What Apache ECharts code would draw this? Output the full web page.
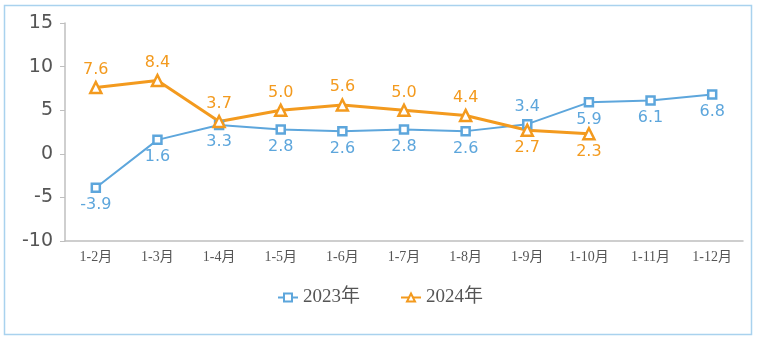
<!DOCTYPE html>
<html><head><meta charset="utf-8">
<script src="https://cdn.jsdelivr.net/npm/echarts@6/dist/echarts.min.js"></script>
<style>html,body{margin:0;padding:0;background:#fff}#c{width:760px;height:340px}</style>
</head><body><div id="c"></div>
<script>
const categories = ['1-2月','1-3月','1-4月','1-5月','1-6月','1-7月','1-8月','1-9月','1-10月','1-11月','1-12月'];
const series2023 = [-3.9,1.6,3.3,2.8,2.6,2.8,2.6,3.4,5.9,6.1,6.8];
const series2024 = [7.6,8.4,3.7,5.0,5.6,5.0,4.4,2.7,2.3];
const labelPos2023 = ['bottom','bottom','bottom','bottom','bottom','bottom','bottom','top','bottom','bottom','bottom'];
const labelPos2024 = ['top','top','top','top','top','top','top','bottom','bottom'];
const yTicks = [-10,-5,0,5,10,15];

const blue = '#5DA6DC', orange = '#F39A1E';
const chart = echarts.init(document.getElementById('c'));
const numFont = 'DejaVu Sans, Verdana, sans-serif';
const serifFont = 'Liberation Serif, Noto Sans CJK SC, serif';
chart.setOption({
  animation:false,
  graphic:[{type:'rect',shape:{x:4.5,y:5.5,width:747,height:329},style:{fill:'none',stroke:'#A9D2EE',lineWidth:1.5},silent:true}],
  grid:{left:65,right:17,top:23,bottom:99},
  legend:{bottom:28,left:'center',itemWidth:20,itemHeight:10,itemGap:40,
    textStyle:{fontFamily:serifFont,fontSize:19,color:'#555'},
    data:['2023年','2024年']},
  xAxis:{type:'category',data:categories,boundaryGap:true,
    axisLine:{onZero:false,lineStyle:{color:'#bfbfbf',width:1.5}},axisTick:{show:false},
    axisLabel:{fontFamily:serifFont,fontSize:14,color:'#555',margin:9,interval:0}},
  yAxis:{type:'value',min:-10,max:15,interval:5,
    axisLine:{show:true,lineStyle:{color:'#bfbfbf',width:1.5}},
    axisTick:{show:true,length:5,lineStyle:{color:'#bfbfbf'}},
    splitLine:{show:false},
    axisLabel:{fontFamily:numFont,fontSize:19,color:'#555',margin:12,
      formatter:v=>yTicks.includes(v)?String(v):''}},
  series:[
    {name:'2023年',type:'line',data:series2023.map((v,i)=>({value:v,label:{position:labelPos2023[i]}})),
     symbol:'rect',symbolSize:8,showAllSymbol:true,
     itemStyle:{color:'#fff',borderColor:blue,borderWidth:2.5},
     lineStyle:{color:blue,width:2},
     label:{show:true,fontFamily:numFont,fontSize:16,color:blue,distance:4,formatter:p=>p.value.toFixed(1)}},
    {name:'2024年',type:'line',data:series2024.map((v,i)=>({value:v,label:{position:labelPos2024[i]}})),
     symbol:'triangle',symbolSize:11,showAllSymbol:true,
     itemStyle:{color:'#fff',borderColor:orange,borderWidth:2.5},
     lineStyle:{color:orange,width:3},
     label:{show:true,fontFamily:numFont,fontSize:16,color:orange,distance:3,formatter:p=>p.value.toFixed(1)}}
  ]
});
</script></body></html>
